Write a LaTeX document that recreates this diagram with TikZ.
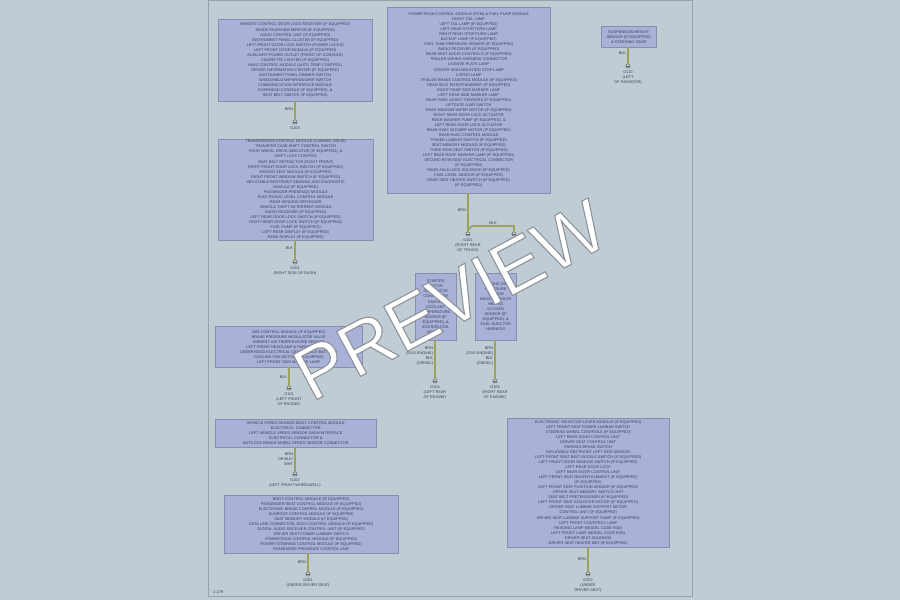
\documentclass[tikz,border=0pt]{standalone}
\usepackage{fontspec}
\setmainfont{Liberation Sans}
\usepackage{tikz}
\usetikzlibrary{calc, positioning}
\tikzset{>=latex}
\definecolor{mybg}{RGB}{191, 204, 212}
\definecolor{myframe}{RGB}{150, 162, 170}
\definecolor{myboxfill}{RGB}{169, 177, 216}
\definecolor{myboxline}{RGB}{136, 141, 174}
\definecolor{mytext}{RGB}{58, 62, 90}
\definecolor{mywire}{RGB}{155, 162, 92}
\definecolor{mymark}{RGB}{140, 146, 152}
\newcommand{\tinyfont}{\fontsize{3.3}{4.3}\selectfont}
\newcommand{\outlined}[1]{\special{pdf:literal direct 2 Tr 0.9 w 0.55 0.57 0.6 RG}#1\special{pdf:literal direct 0 Tr}}
\def\pxu{0.03cm}

\begin{document}
\begin{tikzpicture}[
    x = 0.03cm, y = -0.03cm,
    box/.style = {draw = myboxline, fill = myboxfill, anchor = north west, align = center, inner sep = 0pt, font = \tinyfont, text = mytext},
    wire/.style = {draw = mywire, line width = 1.3pt},
    gnd/.style = {circle, draw = black!60, fill = mybg, line width = 0.4pt, minimum size = 0.13cm, inner sep = 0pt, path picture = {\draw[black!60, line width = 0.4pt] (path picture bounding box.west) -- (path picture bounding box.east);}},
    gndlbl/.style = {align = center, inner sep = 0pt, font = \tinyfont, text = mytext},
    wirelbl/.style = {inner sep = 1pt, font = \tinyfont, text = mytext}
]

\useasboundingbox (0,0) rectangle (900,600);
\fill[mybg] (0,0) rectangle (900,600);
\draw[myframe, line width = 0.8pt] (208,0.5) rectangle (692,596);
\node[gndlbl, anchor = west] (pageno) at (213,592) {1-279};

% boxes
\node[box, minimum width = 154*\pxu, minimum height = 82*\pxu] (boxA) at (218,19) {REMOTE CONTROL DOOR LOCK RECEIVER (IF EQUIPPED)\\ INSIDE REARVIEW MIRROR (IF EQUIPPED)\\ AUDIO CONTROL UNIT (IF EQUIPPED)\\ INSTRUMENT PANEL CLUSTER (IF EQUIPPED)\\ LEFT FRONT DOOR LOCK SWITCH (POWER LOCKS)\\ LEFT FRONT DOOR MODULE (IF EQUIPPED)\\ AUXILIARY POWER OUTLET (FRONT OF CONSOLE)\\ CIGARETTE LIGHTER (IF EQUIPPED)\\ HVAC CONTROL MODULE (AUTO TEMP CONTROL)\\ DRIVER INFORMATION CENTER (IF EQUIPPED)\\ INSTRUMENT PANEL DIMMER SWITCH\\ WINDSHIELD WIPER/WASHER SWITCH\\ COMMUNICATION INTERFACE MODULE\\ OVERHEAD CONSOLE (IF EQUIPPED), \&\\ SEAT BELT SWITCH (IF EQUIPPED)};

\node[box, minimum width = 155*\pxu, minimum height = 101*\pxu] (boxB) at (218,139) {TRANSMISSION CONTROL MODULE (4 WHEEL DRIVE)\\ TRANSFER CASE SHIFT CONTROL SWITCH\\ FOUR WHEEL DRIVE INDICATOR (IF EQUIPPED), \&\\ SHIFT LOCK CONTROL\\ SEAT BELT RETRACTOR (RIGHT FRONT)\\ RIGHT FRONT DOOR LOCK SWITCH (IF EQUIPPED)\\ HEATED SEAT MODULE (IF EQUIPPED)\\ RIGHT FRONT WINDOW SWITCH (IF EQUIPPED)\\ INFLATABLE RESTRAINT SENSING AND DIAGNOSTIC\\ MODULE (IF EQUIPPED)\\ PASSENGER PRESENCE MODULE\\ ELECTRONIC LEVEL CONTROL MODULE\\ REAR WINDOW DEFOGGER\\ VEHICLE THEFT DETERRENT MODULE\\ RADIO RECEIVER (IF EQUIPPED)\\ LEFT REAR DOOR LOCK SWITCH (IF EQUIPPED)\\ RIGHT REAR DOOR LOCK SWITCH (IF EQUIPPED)\\ FUEL PUMP (IF EQUIPPED)\\ LEFT REAR DISPLAY (IF EQUIPPED)\\ REAR DISPLAY (IF EQUIPPED)};

\node[box, minimum width = 163*\pxu, minimum height = 186*\pxu] (boxC) at (387,7) {POWERTRAIN CONTROL MODULE (PCM) \& FUEL PUMP MODULE\\ RIGHT TAIL LAMP\\ LEFT TAIL LAMP (IF EQUIPPED)\\ LEFT REAR STOP/TURN LAMP\\ RIGHT REAR STOP/TURN LAMP\\ BACKUP LAMP (IF EQUIPPED)\\ FUEL TANK PRESSURE SENSOR (IF EQUIPPED)\\ RADIO RECEIVER (IF EQUIPPED)\\ REAR SEAT AUDIO CONTROLS (IF EQUIPPED)\\ TRAILER WIRING HARNESS CONNECTOR\\ LICENSE PLATE LAMP\\ CENTER HIGH MOUNTED STOP LAMP\\ CARGO LAMP\\ TRAILER BRAKE CONTROL MODULE (IF EQUIPPED)\\ REAR SEAT ENTERTAINMENT (IF EQUIPPED)\\ RIGHT REAR SIDE MARKER LAMP\\ LEFT REAR SIDE MARKER LAMP\\ REAR PARK ASSIST SENSORS (IF EQUIPPED)\\ LIFTGATE AJAR SWITCH\\ REAR WINDOW WIPER MOTOR (IF EQUIPPED)\\ RIGHT REAR DOOR LOCK ACTUATOR\\ REAR WASHER PUMP (IF EQUIPPED), \&\\ LEFT REAR DOOR LOCK ACTUATOR\\ REAR HVAC BLOWER MOTOR (IF EQUIPPED)\\ REAR HVAC CONTROL MODULE\\ POWER LUMBAR SWITCH (IF EQUIPPED)\\ SEAT MEMORY MODULE (IF EQUIPPED)\\ THIRD ROW SEAT SWITCH (IF EQUIPPED)\\ LEFT REAR ROOF MARKER LAMP (IF EQUIPPED)\\ SECOND ROW SEAT ELECTRICAL CONNECTOR\\ (IF EQUIPPED)\\ REAR AXLE LOCK SOLENOID (IF EQUIPPED)\\ FUEL LEVEL SENSOR (IF EQUIPPED)\\ REAR SEAT HEATER SWITCH (IF EQUIPPED)\\ (IF EQUIPPED)};

\node[box, minimum width = 41*\pxu, minimum height = 67*\pxu] (boxD) at (415,273) {STARTER\\ MOTOR\\ GENERATOR\\ CONNECTOR\\ ENGINE\\ COOLANT\\ TEMPERATURE\\ SENSOR (IF\\ EQUIPPED), \&\\ IGNITION COIL\\ MODULE};

\node[box, minimum width = 41*\pxu, minimum height = 67*\pxu] (boxE) at (475,273) {ENGINE OIL\\ PRESSURE\\ SENSOR\\ KNOCK SENSOR\\ HEATED\\ OXYGEN\\ SENSOR (IF\\ EQUIPPED), \&\\ FUEL INJECTOR\\ HARNESS};

\node[box, minimum width = 147*\pxu, minimum height = 41*\pxu] (boxF) at (215,326) {ABS CONTROL MODULE (IF EQUIPPED)\\ BRAKE PRESSURE MODULATOR VALVE\\ AMBIENT AIR TEMPERATURE SENSOR\\ LEFT FRONT HEADLAMP \& PARK/TURN LAMP\\ UNDERHOOD ELECTRICAL CENTER (AUX BATTERY)\\ COOLING FAN MOTOR (IF EQUIPPED)\\ LEFT FRONT SIDE MARKER LAMP};

\node[box, minimum width = 161*\pxu, minimum height = 28*\pxu] (boxG) at (215,419) {VEHICLE SPEED SENSOR BODY CONTROL MODULE\\ ELECTRICAL CONNECTOR\\ LEFT VEHICLE SPEED SENSOR DASH INTERFACE\\ ELECTRICAL CONNECTOR \&\\ ANTILOCK BRAKE WHEEL SPEED SENSOR CONNECTOR};

\node[box, minimum width = 174*\pxu, minimum height = 58*\pxu] (boxH) at (224,495) {BODY CONTROL MODULE (IF EQUIPPED)\\ PASSENGER SEAT CONTROL MODULE (IF EQUIPPED)\\ ELECTRONIC BRAKE CONTROL MODULE (IF EQUIPPED)\\ SUNROOF CONTROL MODULE (IF EQUIPPED)\\ SEAT MEMORY MODULE (IF EQUIPPED)\\ DATA LINK CONNECTOR, BODY CONTROL MODULE (IF EQUIPPED)\\ DIGITAL AUDIO RECEIVER CONTROL UNIT (IF EQUIPPED)\\ DRIVER SEAT POWER LUMBAR SWITCH\\ POWERTRAIN CONTROL MODULE (IF EQUIPPED)\\ POWER STEERING CONTROL MODULE (IF EQUIPPED)\\ PASSENGER PRESENCE CONTROL UNIT};

\node[box, minimum width = 162*\pxu, minimum height = 129*\pxu] (boxI) at (507,418) {ELECTRONIC SELECTOR LEVER MODULE (IF EQUIPPED)\\ LEFT FRONT SEAT POWER LUMBAR SWITCH\\ STEERING WHEEL CONTROLS (IF EQUIPPED)\\ LEFT REAR DOOR CONTROL UNIT\\ DRIVER SEAT CONTROL UNIT\\ PARKING BRAKE SWITCH\\ INFLATABLE RESTRAINT LEFT SIDE SENSOR\\ LEFT FRONT SEAT BELT BUCKLE SWITCH (IF EQUIPPED)\\ LEFT FRONT DOOR WINDOW SWITCH (IF EQUIPPED)\\ LEFT REAR DOOR LOCK\\ LEFT REAR DOOR CONTROL UNIT\\ LEFT FRONT SEAT HEATER ELEMENT (IF EQUIPPED)\\ (IF EQUIPPED)\\ LEFT FRONT SEAT POSITION SENSOR (IF EQUIPPED)\\ DRIVER SEAT MEMORY SWITCH UNIT\\ SEAT BELT PRETENSIONER (IF EQUIPPED)\\ LEFT FRONT SEAT ADJUSTER MOTOR (IF EQUIPPED)\\ DRIVER SEAT LUMBAR SUPPORT MOTOR\\ CONTROL UNIT (IF EQUIPPED)\\ DRIVER SEAT LUMBAR SUPPORT PUMP (IF EQUIPPED)\\ LEFT FRONT COURTESY LAMP\\ READING LAMP (MODEL CODE R3D)\\ LEFT FRONT LAMP (MODEL CODE R3D)\\ DRIVER SEAT SOLENOID\\ DRIVER SEAT HEATER MAT (IF EQUIPPED)};

\node[box, minimum width = 55*\pxu, minimum height = 21*\pxu] (boxJ) at (601,26) {SUSPENSION HEIGHT\\ SENSOR (IF EQUIPPED)\\ \& STEERING GEAR};

% grounds
\node[gnd] (gA) at (295,122) {};
\node[gnd] (gB) at (295,262) {};
\node[gnd] (gC) at (468,234) {};
\node[gnd] (gCC) at (514,234) {};
\node[gnd] (gD) at (435,381) {};
\node[gnd] (gE) at (495,381) {};
\node[gnd] (gF) at (289,388) {};
\node[gnd] (gG) at (295,474) {};
\node[gnd] (gH) at (308,574) {};
\node[gnd] (gI) at (588,574) {};
\node[gnd] (gJ) at (628,66) {};

\node[gndlbl, below = 1.5pt of gA] (gAlbl) {G103};
\node[gndlbl, below = 1.5pt of gB] (gBlbl) {G201\\ (RIGHT SIDE OF DASH)};
\node[gndlbl, below = 1.5pt of gC] (gClbl) {G401\\ (RIGHT REAR\\ OF TRUCK)};
\node[gndlbl, below = 1.5pt of gCC] (gCClbl) {G402};
\node[gndlbl, below = 1.5pt of gD] (gDlbl) {G104\\ (LEFT REAR\\ OF ENGINE)};
\node[gndlbl, below = 1.5pt of gE] (gElbl) {G105\\ (RIGHT REAR\\ OF ENGINE)};
\node[gndlbl, below = 1.5pt of gF] (gFlbl) {G101\\ (LEFT FRONT\\ OF ENGINE)};
\node[gndlbl, below = 1.5pt of gG] (gGlbl) {G102\\ (LEFT FRONT WHEELWELL)};
\node[gndlbl, below = 1.5pt of gH] (gHlbl) {G301\\ (UNDER DRIVER SEAT)};
\node[gndlbl, below = 1.5pt of gI] (gIlbl) {G302\\ (UNDER\\ DRIVER SEAT)};
\node[gndlbl, below = 1.5pt of gJ] (gJlbl) {G110\\ (LEFT\\ OF RADIATOR)};

% wires
\draw[wire] (gA |- boxA.south) -- node[wirelbl, left, pos = 0.45] {BRN} (gA);
\draw[wire] (gB |- boxB.south) -- node[wirelbl, left, pos = 0.4] {BLK} (gB);
\draw[wire] (gC |- boxC.south) -- node[wirelbl, left, pos = 0.45] {BRN} (gC);
\coordinate (jC) at (468,230);
\draw[wire] (jC) -- (472,226) -- node[wirelbl, above] {BLK} (514,226) -- (gCC);
\draw[wire] (gD |- boxD.south) -- node[wirelbl, left, align = right, pos = 0.42] {BRN\\ (GAS ENGINE)\\ BLK\\ (DIESEL)} (gD);
\draw[wire] (gE |- boxE.south) -- node[wirelbl, left, align = right, pos = 0.42] {BRN\\ (GAS ENGINE)\\ BLK\\ (DIESEL)} (gE);
\draw[wire] (gF |- boxF.south) -- node[wirelbl, left, pos = 0.55] {BLK} (gF);
\draw[wire] (gG |- boxG.south) -- node[wirelbl, left, align = right, pos = 0.48] {BRN\\ OR BLK/\\ WHT} (gG);
\draw[wire] (gH |- boxH.south) -- node[wirelbl, left, pos = 0.5] {BRN} (gH);
\draw[wire] (gI |- boxI.south) -- node[wirelbl, left, pos = 0.5] {BRN} (gI);
\draw[wire] (gJ |- boxJ.south) -- node[wirelbl, left, pos = 0.35] {BLK} (gJ);

% watermark
\node[text = white, rotate = 28, font = \fontsize{63}{63}\selectfont] (wm) at (450,300) {\outlined{PREVIEW}};

\end{tikzpicture}
\end{document}
